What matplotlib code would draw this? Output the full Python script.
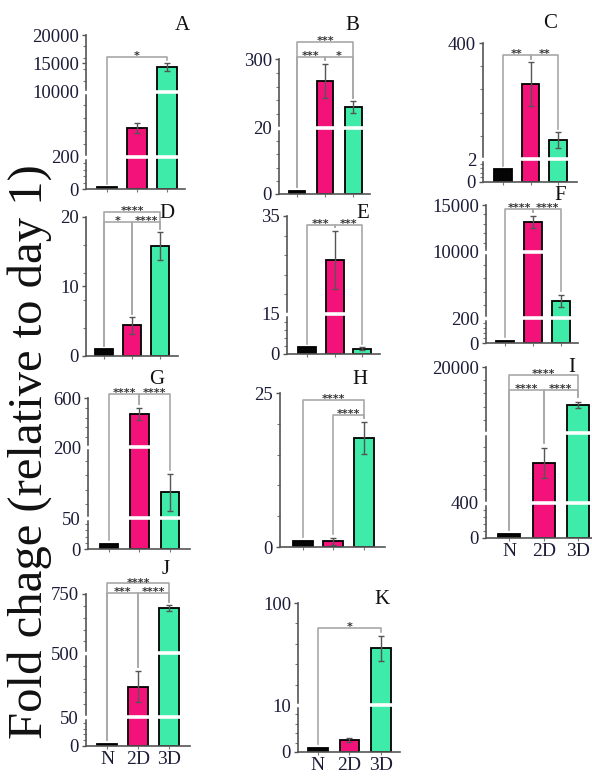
import numpy as np
import matplotlib.pyplot as plt
from matplotlib.transforms import blended_transform_factory

# bar groups and colours
groups = ["N", "2D", "3D"]
bar_colors = ["#050505", "#f3127a", "#3eeba9"]

# values (mean, error), y tick values, axis break values, significance
A_mean = [10, 4600, 14300]
A_err = [0, 750, 700]
A_ticks = [0, 200, 10000, 15000, 20000]
A_breaks = [0, 200, 10000, 20000]
A_sig = [(0, 2, "*")]

B_mean = [1.0, 211, 105]
B_err = [0, 70, 24]
B_ticks = [0, 20, 300]
B_breaks = [0, 20, 300]
B_sig = [(0, 2, "***"), (0, 1, "***"), (1, 2, "*")]

C_mean = [1.1, 259, 67]
C_err = [0, 75, 27]
C_ticks = [0, 2, 400]
C_breaks = [0, 2, 400]
C_sig = [(0, 1, "**"), (1, 2, "**")]

D_mean = [1.0, 4.4, 15.8]
D_err = [0, 1.2, 2.0]
D_ticks = [0, 10, 20]
D_breaks = [0, 20]
D_sig = [(0, 2, "****"), (0, 1, "*"), (1, 2, "****")]

E_mean = [2.5, 26, 2.0]
E_err = [0, 6, 0.6]
E_ticks = [0, 15, 35]
E_breaks = [0, 15, 35]
E_sig = [(0, 1, "***"), (1, 2, "***")]

F_mean = [20, 13200, 2730]
F_err = [0, 650, 950]
F_ticks = [0, 200, 10000, 15000]
F_breaks = [0, 200, 10000, 15000]
F_sig = [(0, 1, "****"), (1, 2, "****")]

G_mean = [8, 470, 104]
G_err = [0, 50, 40]
G_ticks = [0, 50, 200, 600]
G_breaks = [0, 50, 200, 600]
G_sig = [(0, 1, "****"), (1, 2, "****")]

H_mean = [1.0, 0.9, 17.7]
H_err = [0, 0.6, 2.6]
H_ticks = [0, 25]
H_breaks = [0, 25]
H_sig = [(0, 2, "****"), (1, 2, "****")]

I_mean = [40, 3040, 11400]
I_err = [0, 1000, 700]
I_ticks = [0, 400, 20000]
I_breaks = [0, 400, 5000, 20000]
I_sig = [(0, 2, "****"), (0, 1, "****"), (1, 2, "****")]

J_mean = [3, 264, 690]
J_err = [0, 110, 12]
J_ticks = [0, 50, 500, 750]
J_breaks = [0, 50, 500, 750]
J_sig = [(0, 2, "****"), (0, 1, "***"), (1, 2, "****")]

K_mean = [0.9, 2.5, 60]
K_err = [0, 0.4, 11]
K_ticks = [0, 10, 100]
K_breaks = [0, 10, 100]
K_sig = [(0, 2, "*")]

W, H = 592, 776
SERIF = ["Liberation Serif", "DejaVu Serif"]

# layout in pixels: left, top, right, bottom, xlim, bar width, break fractions,
# bracket heights (axes fraction), title position
layout = {
    "A": dict(box=(86, 35, 185, 189), xlim=(-0.7, 2.6), bw=0.67,
              frac=[0, 0.21, 0.63, 1], br=[0.857], title=(182, 25)),
    "B": dict(box=(279, 59, 370, 194), xlim=(-0.64, 2.6), bw=0.6,
              frac=[0, 0.49, 1], br=[1.126, 1.015, 1.015], title=(352, 25)),
    "C": dict(box=(483, 43, 577, 182), xlim=(-0.73, 2.69), bw=0.65,
              frac=[0, 0.165, 1], br=[0.914, 0.914], title=(550, 23)),
    "D": dict(box=(86, 217, 178, 356), xlim=(-0.64, 2.64), bw=0.64,
              frac=[0, 1], br=[1.036, 0.964, 0.964], title=(167, 213)),
    "E": dict(box=(287, 216, 380, 354), xlim=(-0.73, 2.65), bw=0.65,
              frac=[0, 0.29, 1], br=[0.935, 0.935], title=(363, 213)),
    "F": dict(box=(486, 205, 578, 343), xlim=(-0.68, 2.6), bw=0.65,
              frac=[0, 0.18, 0.66, 1], br=[0.97, 0.97], title=(560, 196)),
    "G": dict(box=(88, 398, 190, 549), xlim=(-0.69, 2.66), bw=0.6,
              frac=[0, 0.205, 0.675, 1], br=[1.026, 1.026], title=(157, 380)),
    "H": dict(box=(280, 393, 385, 547), xlim=(-0.75, 2.69), bw=0.66,
              frac=[0, 1], br=[0.955, 0.857], title=(360, 380)),
    "I": dict(box=(486, 367, 592, 538), xlim=(-0.67, 2.4), bw=0.64,
              frac=[0, 0.205, 0.614, 1], br=[0.953, 0.865, 0.865], title=(572, 367)),
    "J": dict(box=(86, 594, 190, 746), xlim=(-0.68, 2.68), bw=0.65,
              frac=[0, 0.19, 0.61, 1], br=[1.07, 1.007, 1.007], title=(166, 570)),
    "K": dict(box=(298, 603, 400, 752), xlim=(-0.63, 2.6), bw=0.63,
              frac=[0, 0.315, 1], br=[0.832], title=(382, 600)),
}

panels = {
    "A": (A_mean, A_err, A_ticks, A_breaks, A_sig),
    "B": (B_mean, B_err, B_ticks, B_breaks, B_sig),
    "C": (C_mean, C_err, C_ticks, C_breaks, C_sig),
    "D": (D_mean, D_err, D_ticks, D_breaks, D_sig),
    "E": (E_mean, E_err, E_ticks, E_breaks, E_sig),
    "F": (F_mean, F_err, F_ticks, F_breaks, F_sig),
    "G": (G_mean, G_err, G_ticks, G_breaks, G_sig),
    "H": (H_mean, H_err, H_ticks, H_breaks, H_sig),
    "I": (I_mean, I_err, I_ticks, I_breaks, I_sig),
    "J": (J_mean, J_err, J_ticks, J_breaks, J_sig),
    "K": (K_mean, K_err, K_ticks, K_breaks, K_sig),
}


def draw_panel(fig, letter):
    mean, err, ticks, breaks, sig = panels[letter]
    lay = layout[letter]
    l, t, r, b = lay["box"]
    ax = fig.add_axes([l / W, 1 - b / H, (r - l) / W, (b - t) / H])

    brk = np.array(breaks, dtype=float)
    frac = np.array(lay["frac"], dtype=float)
    fwd = lambda y: np.interp(y, brk, frac)
    inv = lambda f: np.interp(f, frac, brk)
    ax.set_yscale("function", functions=(fwd, inv))
    ax.set_ylim(0, breaks[-1])
    ax.set_xlim(*lay["xlim"])

    x = np.arange(len(groups))
    ax.bar(x, mean, width=lay["bw"], color=bar_colors, edgecolor="black",
           linewidth=1.3, zorder=2)
    for i in range(len(groups)):
        if err[i] > 0:
            ax.errorbar(x[i], mean[i], yerr=err[i], fmt="none", ecolor="#555555",
                        elinewidth=1, capsize=2, capthick=1, zorder=4)

    # axis breaks: white gap across the bars and the spine
    tr_spine = blended_transform_factory(ax.transAxes, ax.transData)
    for v in breaks[1:-1]:
        for i in range(len(groups)):
            if mean[i] > v:
                ax.hlines(v, x[i] - lay["bw"] / 2 - 0.05, x[i] + lay["bw"] / 2 + 0.05,
                          color="white", lw=2.6, zorder=3)
        ax.plot([-0.04, 0.04], [v, v], color="white", lw=2.5, transform=tr_spine,
                clip_on=False, zorder=6)

    # significance brackets
    tr = blended_transform_factory(ax.transData, ax.transAxes)
    for (i, j, stars), hy in zip(sig, lay["br"]):
        ends = []
        for k in (i, j):
            ends.append(fwd(mean[k] + err[k]) + 0.025)
        ax.plot([x[i], x[i], x[j], x[j]], [ends[0], hy, hy, ends[1]],
                color="#a8a8a8", lw=1.2, transform=tr, clip_on=False, zorder=1)
        ax.text((x[i] + x[j]) / 2, hy + 0.005, stars, transform=tr, ha="center",
                va="center", fontsize=8, fontweight="bold", color="#333333")

    ax.set_yticks(ticks)
    ax.set_yticklabels([str(v) for v in ticks], fontsize=13.5, family=SERIF,
                       color="#1c1c38")
    minors = []
    for a, c in zip(breaks[:-1], breaks[1:]):
        minors += [a + (c - a) * k / 5 for k in range(1, 5)]
    ax.set_yticks(minors, minor=True)
    ax.tick_params(axis="y", which="major", length=3, width=1, color="#555555", pad=2)
    ax.tick_params(axis="y", which="minor", length=2, width=0.8, color="#777777")

    ax.set_xticks(x)
    if letter in ("I", "J", "K"):
        ax.set_xticklabels(groups, fontsize=14, family=SERIF, color="#1c1c38")
    else:
        ax.set_xticklabels([])
    ax.tick_params(axis="x", length=2.5, width=0.8, color="#777777", pad=1)

    for s in ("top", "right"):
        ax.spines[s].set_visible(False)
    for s in ("left", "bottom"):
        ax.spines[s].set_color("#555555")
        ax.spines[s].set_linewidth(1.2)
    ax.set_facecolor("none")

    tx, ty = lay["title"]
    fig.text(tx / W, 1 - ty / H, letter, ha="center", va="center", fontsize=15,
             family=SERIF, color="#111111")


fig = plt.figure(figsize=(W / 100, H / 100), dpi=100)
for letter in panels:
    draw_panel(fig, letter)

fig.text(30 / W, 1 - 452 / H, "Fold chage (relative to day 1)", rotation=90,
         ha="center", va="center", fontsize=35, family=SERIF, color="#111111")

fig.savefig("out.png", dpi=100)
